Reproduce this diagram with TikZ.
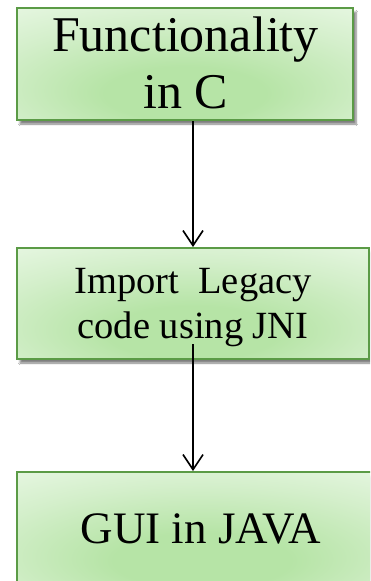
\documentclass[tikz,border=0pt]{standalone}
\usepackage{fontspec}
\setmainfont{Liberation Serif}
\usetikzlibrary{arrows.meta,shadows.blur}
\definecolor{boxborder}{HTML}{5B9B46}
\definecolor{gcenter}{HTML}{B6E4A6}
\definecolor{gmid}{HTML}{D4EFCB}
\definecolor{gedge}{HTML}{F3FCF1}
\pgfdeclareradialshading{boxshade}{\pgfpoint{0bp}{-15bp}}{color(0bp)=(gcenter); color(12bp)=(gcenter); color(30bp)=(gmid); color(52bp)=(gedge); color(100bp)=(gedge)}
\tikzset{
  greenbox/.style={draw=boxborder, line width=2pt, shading=boxshade, rectangle, inner sep=0pt,
    blur shadow={shadow xshift=3pt, shadow yshift=-4pt, shadow blur steps=6, shadow opacity=50}},
  conn/.style={line width=1.6pt, -{Straight Barb[length=15pt,width=20pt]}},
  bigtext/.style={font=\fontsize{50}{57}\selectfont, anchor=base, inner sep=0pt},
  midtext/.style={font=\fontsize{38.5}{45}\selectfont, anchor=base, inner sep=0pt},
  lowtext/.style={font=\fontsize{45}{54}\selectfont, anchor=base, inner sep=0pt},
}
\begin{document}
\begin{tikzpicture}[x=1pt,y=-1pt]
\path[use as bounding box] (0,0) rectangle (370,581);
\clip (0,0) rectangle (370,581);
\fill[white] (0,0) rectangle (370,581);
\node[greenbox, minimum width=336pt, minimum height=112pt] (box1) at (185,64) {};
\node[greenbox, minimum width=352pt, minimum height=111pt] (box2) at (193,303.5) {};
\node[greenbox, minimum width=370pt, minimum height=116pt] (box3) at (202,530) {};
\node[bigtext] (t1a) at (185.5,51) {Functionality};
\node[bigtext] (t1b) at (185.5,108) {in C};
\node[midtext] (t2a) at (193,293) {Import\ \ Legacy};
\node[midtext] (t2b) at (193,338) {code using JNI};
\node[lowtext] (t3) at (201,543) {GUI in JAVA};
\coordinate (a2) at (193,344);
\draw[conn] (box1.south -| box2.north) -- (box2.north);
\draw[conn] (a2) -- (a2 |- box3.north);
\end{tikzpicture}
\end{document}
